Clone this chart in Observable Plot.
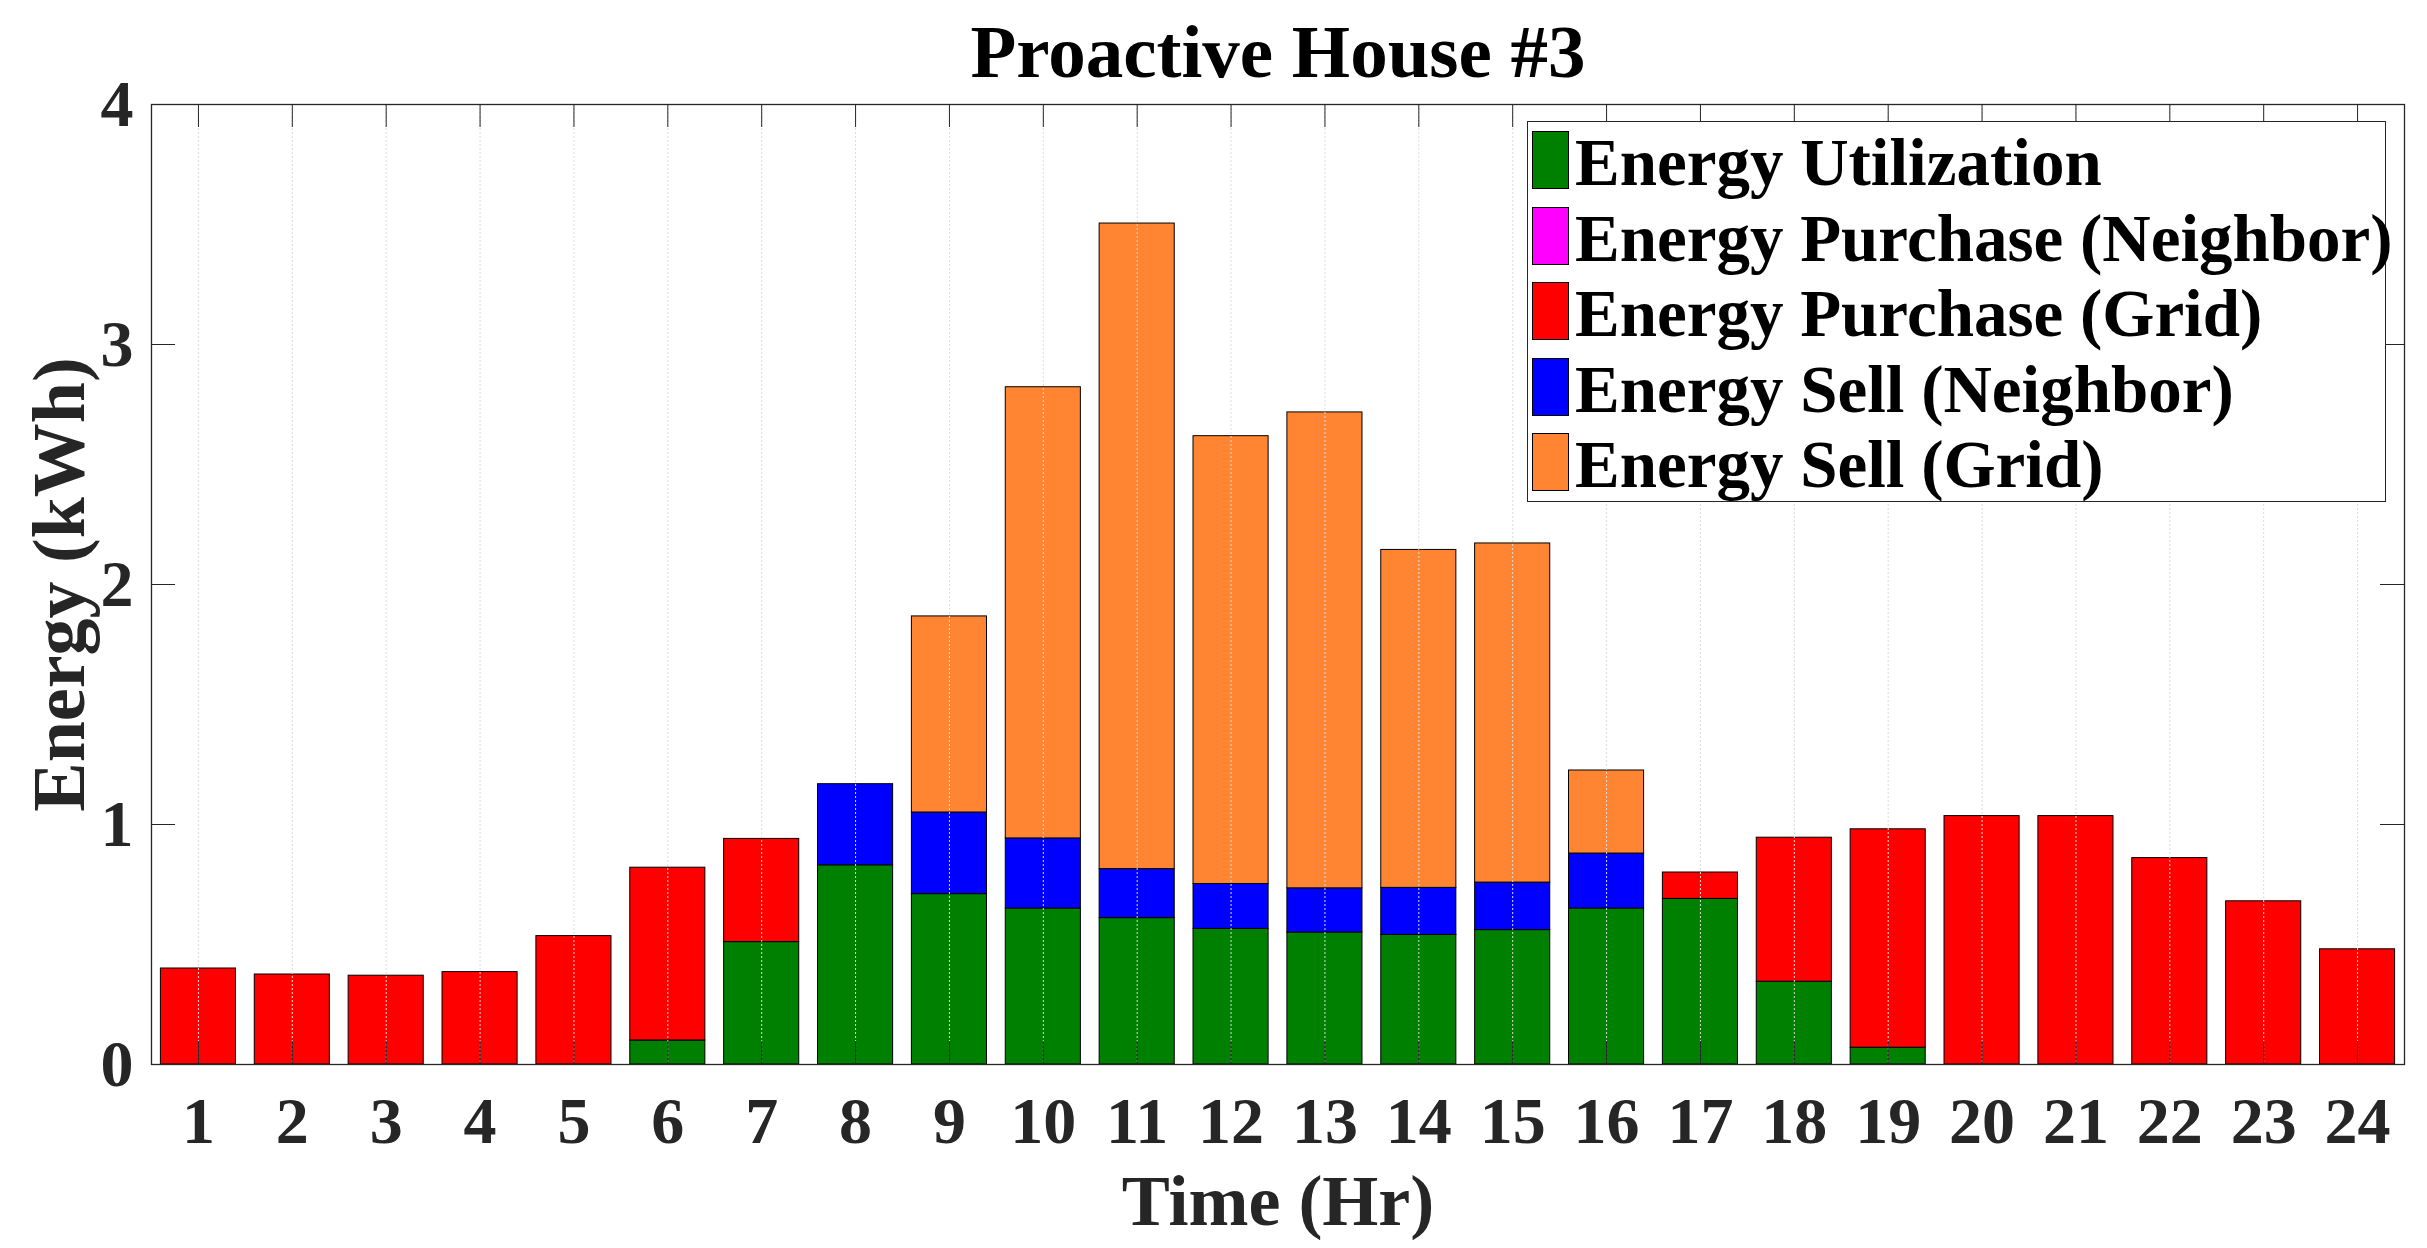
<!DOCTYPE html>
<html>
<head>
<meta charset="utf-8">
<script src="https://cdn.jsdelivr.net/npm/d3@7"></script>
<script src="https://cdn.jsdelivr.net/npm/@observablehq/plot@0.6"></script>
<style>
  html, body { margin: 0; padding: 0; background: #fff; }
  #wrap { position: relative; width: 2427px; height: 1248px; overflow: hidden; background: #fff; }
  #wrap svg { position: absolute; left: 0; top: 0; }
  #legend { position: absolute; left: 1527px; top: 121px; width: 859px; height: 381px;
            border: 1.3px solid #262626; background: #fff; box-sizing: border-box;
            font-family: "Liberation Serif", "Times New Roman", serif; font-weight: bold; }
  .row { position: absolute; left: 4px; height: 59px; }
  .sw { position: absolute; left: 0; top: 0; width: 37px; height: 58px; border: 1px solid #000; box-sizing: border-box; }
  .lt { position: absolute; left: 43px; top: 2px; white-space: nowrap; font-size: 67px; line-height: 59px; color: #000; }
</style>
</head>
<body>
<div id="wrap"><div id="legend"></div></div>
<script>
// ---- data ----
const hours = [1,2,3,4,5,6,7,8,9,10,11,12,13,14,15,16,17,18,19,20,21,22,23,24];
const seriesNames = ["Energy Utilization", "Energy Purchase (Neighbor)", "Energy Purchase (Grid)", "Energy Sell (Neighbor)", "Energy Sell (Grid)"];
const seriesColors = ["#008000", "#ff00ff", "#ff0000", "#0000ff", "#ff8533"];
const utilization      = [0,0,0,0,0,0.10,0.51,0.83,0.71,0.65,0.61,0.565,0.55,0.54,0.56,0.65,0.69,0.345,0.07,0,0,0,0,0];
const purchaseNeighbor = [0,0,0,0,0,0,0,0,0,0,0,0,0,0,0,0,0,0,0,0,0,0,0,0];
const purchaseGrid     = [0.40,0.375,0.37,0.385,0.535,0.72,0.43,0,0,0,0,0,0,0,0,0,0.11,0.60,0.91,1.035,1.035,0.86,0.68,0.48];
const sellNeighbor     = [0,0,0,0,0,0,0,0.338,0.34,0.292,0.204,0.187,0.184,0.196,0.198,0.229,0,0,0,0,0,0,0,0];
const sellGrid         = [0,0,0,0,0,0,0,0,0.817,1.88,2.69,1.866,1.983,1.408,1.413,0.346,0,0,0,0,0,0,0,0];
const yTicks = [0,1,2,3,4];
const titleText = "Proactive House #3";
const xLabel = "Time (Hr)";
const yLabel = "Energy (kWh)";

const seriesValues = [utilization, purchaseNeighbor, purchaseGrid, sellNeighbor, sellGrid];
const rows = [];
hours.forEach((h, i) => {
  seriesNames.forEach((s, k) => rows.push({hour: h, series: s, value: seriesValues[k][i]}));
});

const W = 2427, H = 1248;
const mL = 151, mR = 23, mT = 104, mB = 184;
const fw = W - mL - mR, fh = H - mT - mB;
const axisColor = "#262626";
const font = "Liberation Serif";

const chart = Plot.plot({
  width: W, height: H,
  marginLeft: mL, marginRight: mR, marginTop: mT, marginBottom: mB,
  style: {fontFamily: font, fontWeight: "bold", background: "#fff", overflow: "visible"},
  x: {type: "band", domain: hours, paddingInner: 0.2, paddingOuter: 0.1, round: false, label: null},
  y: {domain: [0, 4], label: null},
  color: {domain: seriesNames, range: seriesColors},
  marks: [
    Plot.barY(rows, Plot.stackY({x: "hour", y: "value", fill: "series", stroke: "#000", strokeWidth: 1})),
    Plot.ruleX(hours, {x: d => d, stroke: "#dcdcdc", strokeWidth: 1, strokeDasharray: "2,2"}),
    Plot.ruleX(hours, {x: d => d, stroke: axisColor, strokeWidth: 1, insetTop: fh - 23}),
    Plot.ruleX(hours, {x: d => d, stroke: axisColor, strokeWidth: 1, insetBottom: fh - 23}),
    Plot.ruleY(yTicks, {y: d => d, stroke: axisColor, strokeWidth: 1, insetRight: fw - 24}),
    Plot.ruleY(yTicks, {y: d => d, stroke: axisColor, strokeWidth: 1, insetLeft: fw - 24}),
    Plot.frame({stroke: axisColor, strokeWidth: 1.3}),
    Plot.axisX({tickSize: 0, tickPadding: 32, fontSize: 66, fontWeight: "bold", fill: axisColor, label: null}),
    Plot.axisY({ticks: yTicks, tickFormat: d => String(d), tickSize: 0, tickPadding: 18, fontSize: 66, fontWeight: "bold", fill: axisColor, label: null}),
    Plot.text([titleText], {text: d => d, frameAnchor: "top", lineAnchor: "bottom", dy: -28, fontSize: 75, fontWeight: "bold", fill: "#000"}),
    Plot.text([xLabel], {text: d => d, frameAnchor: "bottom", lineAnchor: "bottom", dy: 160, fontSize: 72, fontWeight: "bold", fill: axisColor}),
    Plot.text([yLabel], {text: d => d, frameAnchor: "left", textAnchor: "middle", lineAnchor: "bottom", rotate: -90, dx: -68, fontSize: 74, fontWeight: "bold", fill: axisColor})
  ]
});
const wrap = document.getElementById("wrap");
wrap.insertBefore(chart, wrap.firstChild);

// legend
const legend = document.getElementById("legend");
seriesNames.forEach((s, k) => {
  const r = document.createElement("div");
  r.className = "row";
  r.style.top = (9 + k * 75.5) + "px";
  const sw = document.createElement("div");
  sw.className = "sw";
  sw.style.background = seriesColors[k];
  const t = document.createElement("div");
  t.className = "lt";
  t.textContent = s;
  r.appendChild(sw); r.appendChild(t);
  legend.appendChild(r);
});
</script>
</body>
</html>
